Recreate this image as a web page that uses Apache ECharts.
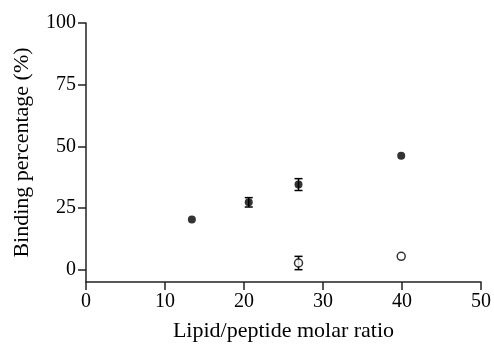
<!DOCTYPE html>
<html><head><meta charset="utf-8">
<script src="https://cdn.jsdelivr.net/npm/echarts@6/dist/echarts.min.js"></script>
<style>html,body{margin:0;padding:0;background:#fff}#c{width:494px;height:347px}</style>
</head><body><div id="c"></div>
<script>
const xFilled = [13.4, 20.6, 26.9, 39.9];
const yFilled = [20.3, 27.3, 34.5, 46.2];
const errFilled = [0, 1.9, 2.4, 0];
const xOpen = [26.9, 39.9];
const yOpen = [2.7, 5.4];
const errOpen = [2.7, 0];
const yTicks = [0, 25, 50, 75, 100];
const xTitle = 'Lipid/peptide molar ratio';
const yTitle = 'Binding percentage (%)';

const font = 'Liberation Serif';
const chart = echarts.init(document.getElementById('c'));
function errData(xs, ys, es) { return xs.map((x, i) => [x, ys[i] - es[i], ys[i] + es[i]]).filter((d, i) => es[i] > 0); }
function errRender(params, api) {
  const x = api.value(0);
  const lo = api.coord([x, api.value(1)]);
  const hi = api.coord([x, api.value(2)]);
  const w = 4;
  const st = { stroke: '#000', lineWidth: 1.5 };
  return { type: 'group', children: [
    { type: 'line', shape: { x1: lo[0], y1: lo[1], x2: hi[0], y2: hi[1] }, style: st },
    { type: 'line', shape: { x1: lo[0] - w, y1: lo[1], x2: lo[0] + w, y2: lo[1] }, style: st },
    { type: 'line', shape: { x1: hi[0] - w, y1: hi[1], x2: hi[0] + w, y2: hi[1] }, style: st }
  ]};
}
chart.setOption({
  animation: false,
  grid: { left: 86, right: 11, top: 23, bottom: 62, containLabel: false },
  xAxis: {
    type: 'value', min: 0, max: 50, interval: 10,
    splitLine: { show: false },
    axisLine: { show: true, onZero: false, lineStyle: { color: '#222', width: 1.5 } },
    axisTick: { show: true, length: 8, lineStyle: { color: '#222', width: 1.5 } },
    axisLabel: { color: '#000', fontFamily: font, fontSize: 20, margin: 10 },
    name: xTitle, nameLocation: 'middle', nameGap: 38,
    nameTextStyle: { color: '#000', fontFamily: font, fontSize: 22 }
  },
  yAxis: {
    type: 'value', min: -5, max: 100,
    splitLine: { show: false },
    axisLine: { show: true, onZero: false, lineStyle: { color: '#222', width: 1.5 } },
    axisTick: { show: true, length: 8, customValues: yTicks, lineStyle: { color: '#222', width: 1.5 } },
    axisLabel: { color: '#000', fontFamily: font, fontSize: 20, margin: 10, customValues: yTicks },
    name: yTitle, nameLocation: 'middle', nameGap: 53,
    nameTextStyle: { color: '#000', fontFamily: font, fontSize: 22 }
  },
  series: [
    { type: 'custom', renderItem: errRender, data: errData(xFilled, yFilled, errFilled), z: 1 },
    { type: 'custom', renderItem: errRender, data: errData(xOpen, yOpen, errOpen), z: 1 },
    { type: 'scatter', symbol: 'circle', symbolSize: 8, itemStyle: { color: '#000' },
      data: xFilled.map((x, i) => [x, yFilled[i]]), z: 3 },
    { type: 'scatter', symbol: 'circle', symbolSize: 8, itemStyle: { color: '#fff', borderColor: '#000', borderWidth: 1.5 },
      data: xOpen.map((x, i) => [x, yOpen[i]]), z: 3 }
  ]
});
</script></body></html>
